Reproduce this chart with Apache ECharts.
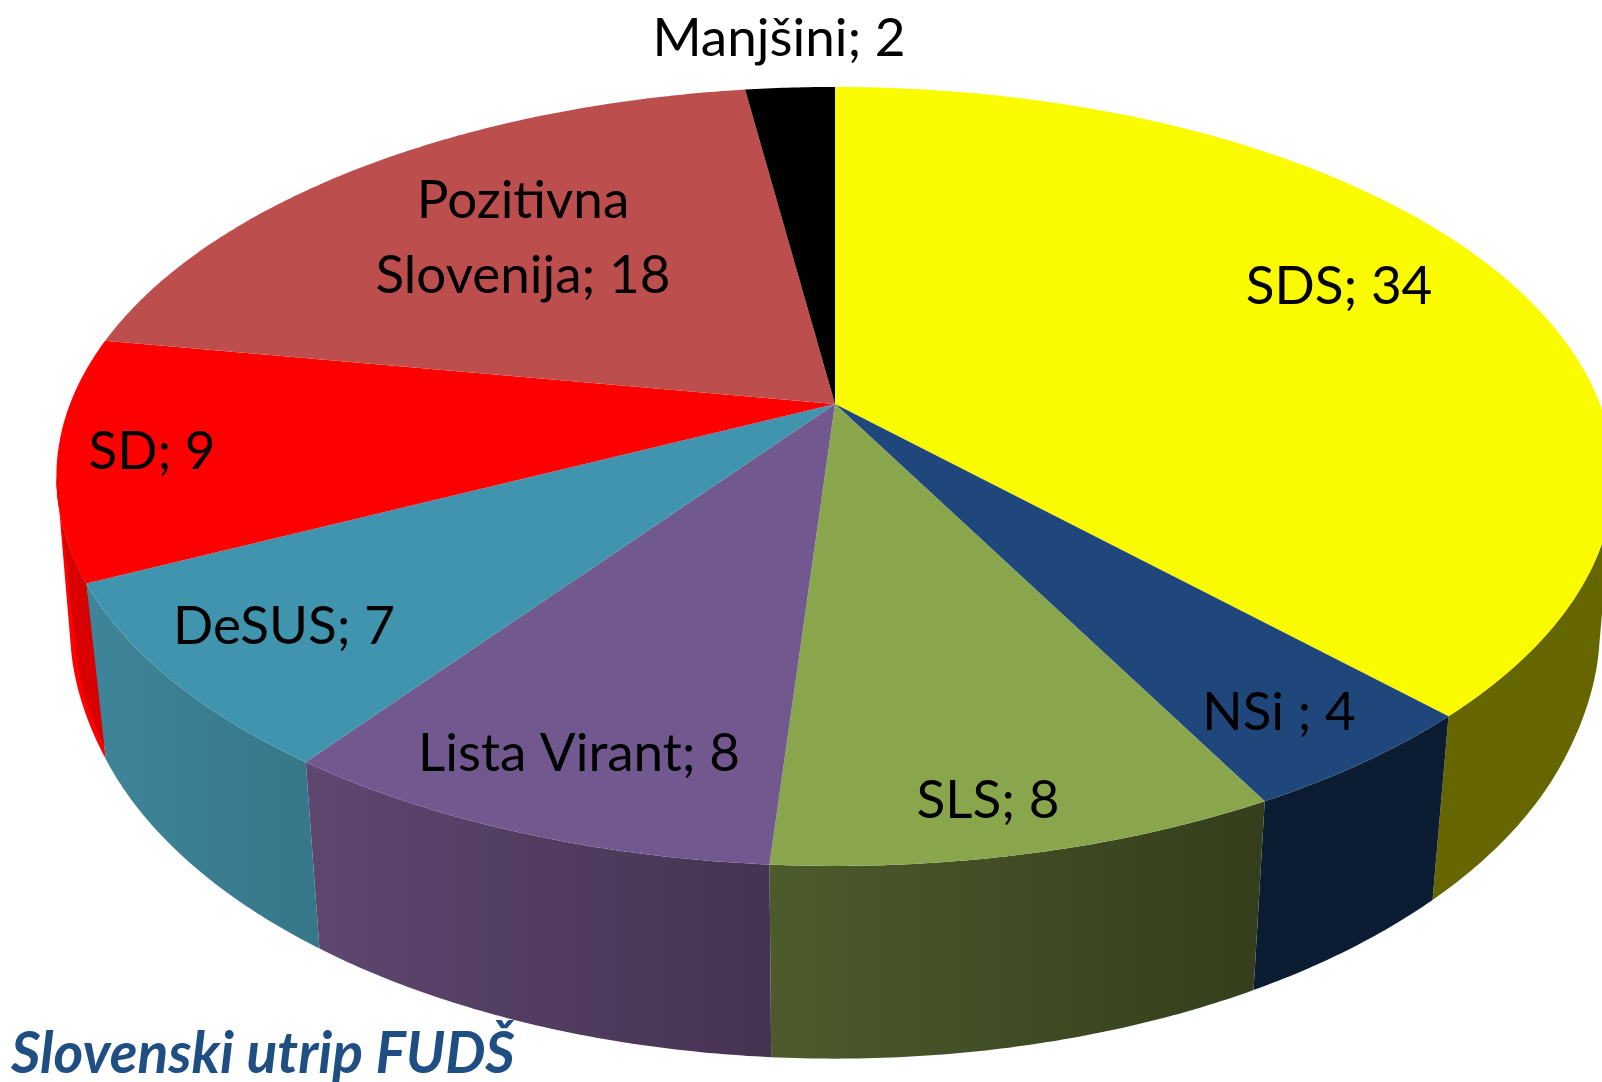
<!DOCTYPE html>
<html><head><meta charset="utf-8">
<style>html,body{margin:0;padding:0;background:#fff;overflow:hidden}#c{width:1602px;height:1082px}</style>
<script src="https://cdn.jsdelivr.net/npm/echarts@6/dist/echarts.min.js"></script>
</head><body><div id="c"></div>
<script>
// Data
const parties = ['SDS', 'NSi ', 'SLS', 'Lista Virant', 'DeSUS', 'SD', 'Pozitivna\nSlovenija', 'Manjšini'];
const seats = [34, 4, 8, 8, 7, 9, 18, 2];
const watermark = 'Slovenski utrip FUDŠ';

// Styling
const topColors = ['#FBFB00', '#1F477B', '#8AA64D', '#71588F', '#4094AE', '#FF0000', '#BC4F4E', '#000000'];
const sideColors = [
  ['#666600', '#666600'], ['#0C1D33', '#0C1D33'], ['#4D5B2C', '#343E1C'], ['#5E4771', '#463351'],
  ['#3F8599', '#367789'], ['#FF0000', '#FF0000'], ['#BC4F4E', '#BC4F4E'], ['#000000', '#000000']
];
const labelCentres = [[1339, 287], [1279, 713], [988, 801], [579, 754], [284, 627], [152, 452], [523, 238], [779, 39]];

// Perspective of the pie's disc
const CX = 835, CY = 404, AX = 765, BY = 376, K = 0.186;
const SHRINK_FRONT = 0.974, SHRINK_SIDE = 0.986, DROP = 165, DROPGROW = 0.06;
const SD_INDEX = 5, SD_SHADE = '#D80000', SD_SLIVER = 5;
const total = seats.reduce((a, b) => a + b, 0);
const FONT = 'Lato, "Open Sans", sans-serif';
// Rim angles where the disc reaches its widest: the side wall is only seen between them
const WALL_FROM = Math.acos(-K), WALL_TO = 2 * Math.PI - WALL_FROM;

function sliceAngles(i) {
  let sum = 0;
  for (let j = 0; j < i; j++) sum += seats[j];
  return [sum / total * 2 * Math.PI, (sum + seats[i]) / total * 2 * Math.PI];
}
function topPoint(t) {
  const x = Math.sin(t), v = Math.cos(t), w = 1 + K * v;
  return [CX + AX * x / w, CY - BY * v / w];
}
function bottomPoint(t) {
  const p = topPoint(t);
  let s = (Math.cos(t) + 0.45) / 0.45;
  s = Math.min(1, Math.max(0, s));
  s = s * s * (3 - 2 * s);
  const shrink = SHRINK_FRONT + (SHRINK_SIDE - SHRINK_FRONT) * s;
  return [CX + shrink * (p[0] - CX), p[1] + DROP + DROPGROW * (p[1] - CY)];
}
function arc(fn, a, b) {
  const n = Math.max(2, Math.ceil((b - a) / (Math.PI / 360)));
  const pts = [];
  for (let i = 0; i <= n; i++) pts.push(fn(a + (b - a) * i / n));
  return pts;
}

const chart = echarts.init(document.getElementById('c'), null, {renderer: 'canvas'});
const rows = seats.map((s, i) => [i, s]);

chart.setOption({
  animation: false,
  backgroundColor: '#ffffff',
  title: {
    text: watermark, left: 11, top: 1024, padding: 0,
    textStyle: {fontFamily: 'Lato, "DejaVu Sans", sans-serif', fontWeight: 'bold', fontStyle: 'italic', fontSize: 57, color: '#1F4E82', lineHeight: 62}
  },
  series: [
    {
      type: 'custom', coordinateSystem: 'none', silent: true, z: 1, data: rows,
      renderItem(params, api) {
        const i = api.value(0);
        const [a0, b0] = sliceAngles(i);
        const a = Math.max(a0, WALL_FROM), b = Math.min(b0, WALL_TO);
        if (b <= a) return {type: 'group', children: []};
        const top = arc(topPoint, a, b);
        const bottom = arc(bottomPoint, a, b).reverse();
        const children = [{
          type: 'polygon', z2: i === SD_INDEX ? 0 : 2,
          shape: {points: top.concat(bottom)},
          style: {fill: new echarts.graphic.LinearGradient(0, 0, 1, 0, [
            {offset: 0, color: sideColors[i][0]}, {offset: 1, color: sideColors[i][1]}])}
        }];
        if (i === SD_INDEX) {
          children.push({
            type: 'polygon', z2: 1,
            shape: {points: top.concat(bottom.map(p => [p[0] + SD_SLIVER, p[1]]))},
            style: {fill: SD_SHADE}
          });
        }
        return {type: 'group', children};
      }
    },
    {
      type: 'custom', coordinateSystem: 'none', silent: true, z: 2, data: rows,
      renderItem(params, api) {
        const i = api.value(0);
        const [a, b] = sliceAngles(i);
        return {
          type: 'polygon', shape: {points: [[CX, CY]].concat(arc(topPoint, a, b))},
          style: {fill: topColors[i]}
        };
      }
    },
    {
      type: 'custom', coordinateSystem: 'none', silent: true, z: 3, data: rows,
      renderItem(params, api) {
        const i = api.value(0);
        return {
          type: 'text', x: labelCentres[i][0], y: labelCentres[i][1],
          style: {
            text: parties[i] + '; ' + api.value(1),
            font: '53px ' + FONT, fill: '#000', align: 'center', verticalAlign: 'middle', lineHeight: 75
          }
        };
      }
    }
  ]
});
</script></body></html>
